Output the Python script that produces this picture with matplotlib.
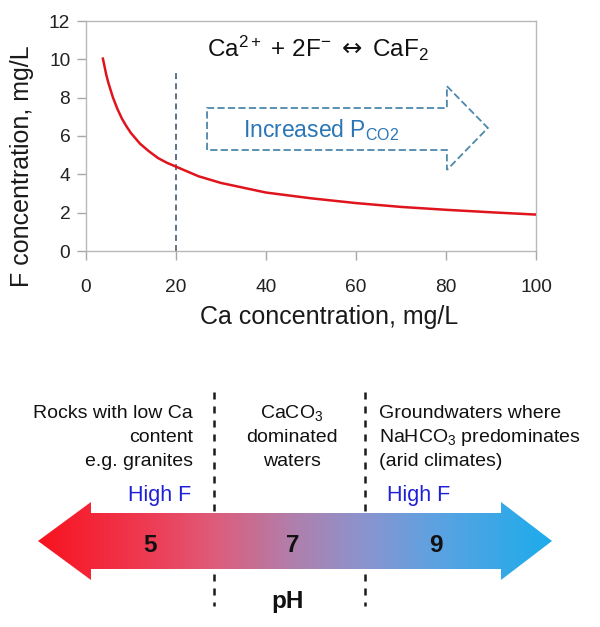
import numpy as np
import matplotlib
matplotlib.use('Agg')
import matplotlib.pyplot as plt
from matplotlib.patches import Polygon

plt.rcParams['font.family'] = ['Liberation Sans', 'DejaVu Sans']
plt.rcParams['mathtext.fontset'] = 'custom'
plt.rcParams['mathtext.rm'] = 'Liberation Sans'
plt.rcParams['mathtext.it'] = 'Liberation Sans:italic'
plt.rcParams['mathtext.bf'] = 'Liberation Sans:bold'
plt.rcParams['mathtext.sf'] = 'DejaVu Sans'

# ---------------- data ----------------
ca_mgL = [3.7, 4.5, 5, 6, 7, 8, 9, 10, 12, 14, 16, 18, 20, 25, 30, 35, 40,
          50, 60, 70, 80, 90, 100]
f_mgL = [10.1, 9.2, 8.75, 8.0, 7.4, 6.9, 6.5, 6.15, 5.6, 5.2, 4.85, 4.6, 4.4,
         3.9, 3.55, 3.3, 3.05, 2.75, 2.5, 2.3, 2.15, 2.02, 1.9]
x_ticks = [0, 20, 40, 60, 80, 100]
y_ticks = [0, 2, 4, 6, 8, 10, 12]
ca_marker = 20
ca_marker_top = 9.35
equation = (r'Ca$^{\mathregular{2+}}$ + 2F$^{\mathregular{-}}$ '
            r'$\mathsf{\leftrightarrow}$ CaF$_{\mathregular{2}}$')
pco2_label = r'Increased P$_{\mathregular{CO2}}$'

ph_labels = [5, 7, 9]
ph_boundaries = [5.9, 8.0]
zone_left = ['Rocks with low Ca', 'content', 'e.g. granites']
zone_mid = [r'CaCO$_{\mathregular{3}}$', 'dominated', 'waters']
zone_right = ['Groundwaters where', r'NaHCO$_{\mathregular{3}}$ predominates',
              '(arid climates)']
high_f = 'High F'

# ---------------- figure ----------------
W, H = 600, 627
fig = plt.figure(figsize=(W / 100, H / 100), dpi=100)

# top chart
ax = fig.add_axes([86 / W, 1 - 251 / H, 450 / W, 230 / H])
ax.plot(ca_mgL, f_mgL, color='#e0141c', lw=1.8, zorder=3, solid_capstyle='butt')
ax.set_xlim(0, 100)
ax.set_ylim(0, 12)
ax.set_xticks(x_ticks)
ax.set_yticks(y_ticks)
for s in ax.spines.values():
    s.set_color('#b8b8b8')
    s.set_linewidth(1.0)
ax.tick_params(axis='both', direction='out', length=6.3, width=1.0,
               color='#a8a8a8', labelsize=13.8, labelcolor='#222222')
ax.tick_params(axis='x', pad=14)
ax.tick_params(axis='y', pad=5)
ax.set_xlabel('Ca concentration, mg/L', fontsize=18, color='#1a1a1a', va='center')
ax.xaxis.set_label_coords(0.54, -0.287)
ax.set_ylabel('F concentration, mg/L', fontsize=18, color='#1a1a1a', va='center')
ax.yaxis.set_label_coords(-0.142, 0.37)

ax.plot([ca_marker, ca_marker], [0, ca_marker_top], color='#50687f', lw=1.3,
        linestyle=(0, (3.3, 2.3)), zorder=2)

ax.text(26.9, 10.14, equation, fontsize=17.5, color='#111111',
        ha='left', va='baseline')

arrow_pts = [(26.9, 5.27), (26.9, 7.46), (80.2, 7.46), (80.2, 8.6),
             (89.3, 6.42), (80.2, 4.23), (80.2, 5.27)]
ax.add_patch(Polygon(arrow_pts, closed=True, facecolor='none',
                     edgecolor='#4d88ad', lw=1.3, linestyle=(0, (4, 1.8))))
ax.text(34.9, 5.96, pco2_label, fontsize=16.5, color='#2a76b6',
        ha='left', va='baseline')

# bottom diagram: x in pH units, y in pixel rows
ph5_px, px_per_ph = 150.0, 71.5
axb = fig.add_axes([0, 0, 1, 247 / H])
axb.axis('off')
axb.patch.set_alpha(0)

def phx(px):
    return 5 + (px - ph5_px) / px_per_ph

xl_tip, xl_base, xr_base, xr_tip = phx(38), phx(91), phx(501), phx(552)
y_ht, y_bt, y_c, y_bb, y_hb = 502, 513, 541, 569, 580
verts = [(xl_tip, y_c), (xl_base, y_ht), (xl_base, y_bt), (xr_base, y_bt),
         (xr_base, y_ht), (xr_tip, y_c), (xr_base, y_hb), (xr_base, y_bb),
         (xl_base, y_bb), (xl_base, y_hb)]
poly = Polygon(verts, closed=True, facecolor='none', edgecolor='none')
axb.add_patch(poly)

stop_px = [38, 150, 214, 289, 365, 436, 552]
stop_col = np.array([(248, 18, 30), (238, 60, 85), (222, 92, 122),
                     (178, 126, 170), (138, 148, 207), (92, 162, 226),
                     (28, 172, 235)]) / 255.0
gx = np.linspace(38, 552, 600)
grad = np.stack([np.interp(gx, stop_px, stop_col[:, i]) for i in range(3)], axis=1)
im = axb.imshow(grad[np.newaxis, :, :], extent=[xl_tip, xr_tip, y_hb, y_ht],
                aspect='auto', zorder=2, interpolation='bilinear')
im.set_clip_path(poly)
axb.set_xlim(5 - ph5_px / px_per_ph, 5 + (W - ph5_px) / px_per_ph)
axb.set_ylim(627, 380)

for b in ph_boundaries:
    axb.plot([b, b], [392, 606], color='#1a1a1a', lw=1.8,
             linestyle=(0, (2.8, 2.8)), zorder=1)

for v in ph_labels:
    axb.text(v, 551.5, str(v), fontsize=17.5, fontweight='bold',
             color='#111111', ha='center', va='baseline', zorder=3)
axb.text(6.93, 608, 'pH', fontsize=17.5, fontweight='bold', color='#111111',
         ha='center', va='baseline')

baselines = [418, 442, 466]
for line, yb in zip(zone_left, baselines):
    axb.text(phx(193), yb, line, fontsize=14, color='#111111', ha='right', va='baseline')
for line, yb in zip(zone_mid, baselines):
    axb.text(phx(292), yb, line, fontsize=14, color='#111111', ha='center', va='baseline')
for line, yb in zip(zone_right, baselines):
    axb.text(phx(379), yb, line, fontsize=14, color='#111111', ha='left', va='baseline')

axb.text(phx(191), 501.5, high_f, fontsize=15.5, color='#1f1fd6', ha='right', va='baseline')
axb.text(phx(387), 501.5, high_f, fontsize=15.5, color='#1f1fd6', ha='left', va='baseline')

fig.savefig('out.png', dpi=100, facecolor='white')
